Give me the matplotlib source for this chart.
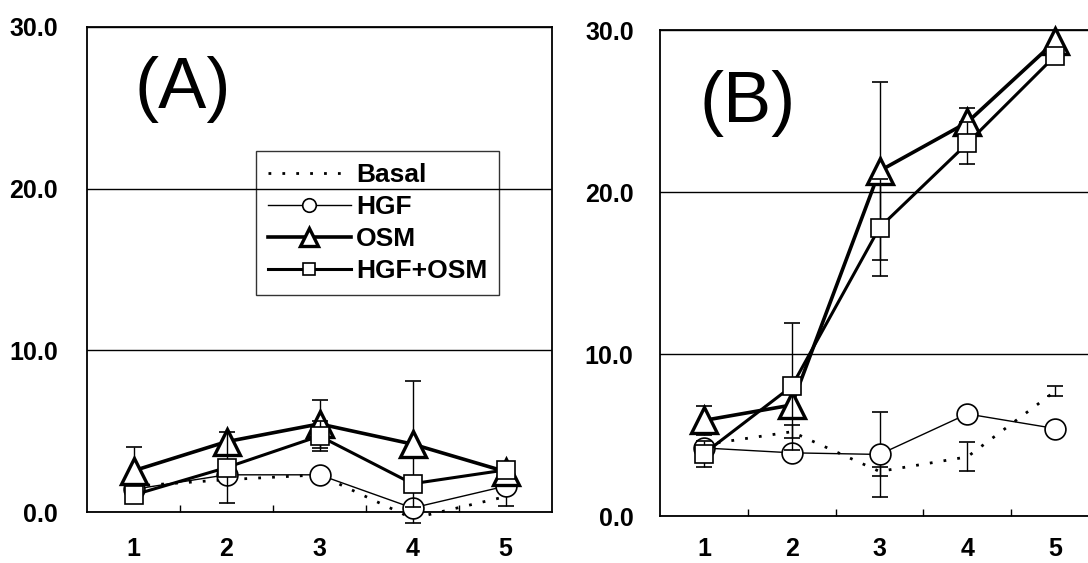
import numpy as np
import matplotlib
matplotlib.use('Agg')
import matplotlib.pyplot as plt

plt.rcParams['font.family'] = ['Liberation Sans', 'DejaVu Sans']
plt.rcParams['font.weight'] = 'bold'

# data
days = [1, 2, 3, 4, 5]
labels = ['Basal', 'HGF', 'OSM', 'HGF+OSM']

a_basal = [1.6, 2.0, 2.3, -0.4, 0.95]
a_basal_err = [0.0, 0.0, 0.0, 0.3, 0.0]
a_hgf = [1.4, 2.3, 2.3, 0.25, 1.6]
a_hgf_err = [0.0, 0.0, 0.0, 0.0, 1.2]
a_osm = [2.55, 4.35, 5.45, 4.2, 2.5]
a_osm_err = [1.5, 0.0, 1.5, 3.9, 0.0]
a_combo = [1.05, 2.75, 4.7, 1.75, 2.6]
a_combo_err = [0.0, 2.2, 0.9, 0.0, 0.0]

b_basal = [4.4, 5.2, 2.75, 3.65, 7.7]
b_basal_err = [0.0, 0.4, 0.3, 0.9, 0.3]
b_hgf = [4.2, 3.9, 3.8, 6.3, 5.4]
b_hgf_err = [0.0, 0.0, 2.6, 0.0, 0.0]
b_osm = [5.9, 6.85, 21.3, 24.3, 29.3]
b_osm_err = [0.9, 0.0, 5.5, 0.9, 0.0]
b_combo = [3.85, 8.0, 17.8, 23.0, 28.4]
b_combo_err = [0.8, 3.9, 3.0, 1.3, 0.0]

yticks = [0, 10, 20, 30]

# line styles per series
styles = {
    'Basal': dict(color='k', lw=2.0, ls=(0, (1, 4)), marker='None'),
    'HGF': dict(color='k', lw=1.0, marker='o', ms=15, mfc='w', mec='k', mew=1.2),
    'OSM': dict(color='k', lw=2.6, marker='^', ms=19, mfc='w', mec='k', mew=2.4),
    'HGF+OSM': dict(color='k', lw=2.2, marker='s', ms=13, mfc='w', mec='k', mew=1.2),
}


def draw_panel(ax, values, errors, tag, tagx, tagy, ypad, xpad):
    x = np.array(days, dtype=float)
    for i, (lab, y, e) in enumerate(zip(labels, values, errors)):
        y = np.array(y)
        e = np.array(e)
        z = 2 + i
        m = e > 0
        if m.any():
            ax.errorbar(x[m], y[m], yerr=e[m], fmt='none', ecolor='k',
                        elinewidth=1.0, capsize=5.5, capthick=1.2,
                        zorder=z - 0.5, clip_on=False)
        ax.plot(x, y, label=lab, zorder=z, clip_on=False, **styles[lab])

    # axes properties
    ax.set_xlim(0.5, 5.5)
    ax.set_ylim(0, 30)
    ax.set_xticks(days)
    ax.set_xticks([1.5, 2.5, 3.5, 4.5], minor=True)
    ax.set_yticks(yticks)
    ax.yaxis.set_major_formatter('{x:.1f}')
    ax.tick_params(axis='x', which='major', length=0, pad=xpad, labelsize=18)
    ax.tick_params(axis='x', which='minor', direction='in', length=5, width=1)
    ax.tick_params(axis='y', length=0, pad=ypad, labelsize=18)
    ax.grid(axis='y', color='k', lw=1.0)
    for s in ax.spines.values():
        s.set_linewidth(1.3)

    # corner tag
    ax.text(tagx, tagy, tag, transform=ax.transAxes, ha='center',
            va='baseline', fontsize=52, fontweight='normal')


# initialize figure
fig = plt.figure(figsize=(10.88, 5.63), dpi=100)
axa = fig.add_axes([87/1088, 51/563, 465/1088, 485/563])
axb = fig.add_axes([660/1088, 47/563, 439/1088, 486/563])

draw_panel(axa, [a_basal, a_hgf, a_osm, a_combo],
           [a_basal_err, a_hgf_err, a_osm_err, a_combo_err],
           '(A)', 0.206, 0.833, 21.0, 18)
draw_panel(axb, [b_basal, b_hgf, b_osm, b_combo],
           [b_basal_err, b_hgf_err, b_osm_err, b_combo_err],
           '(B)', 0.2, 0.811, 19.0, 15)

# legend on panel A
leg = axa.legend(loc='upper left', bbox_to_anchor=(0.363, 0.744),
                 borderaxespad=0, fontsize=19, markerscale=0.65,
                 handlelength=3.15, handletextpad=0.2, labelspacing=0.3,
                 borderpad=0.45, fancybox=False, facecolor='none',
                 edgecolor='k', framealpha=None)
leg.get_frame().set_linewidth(1.0)

fig.savefig('out.png', dpi=100)
